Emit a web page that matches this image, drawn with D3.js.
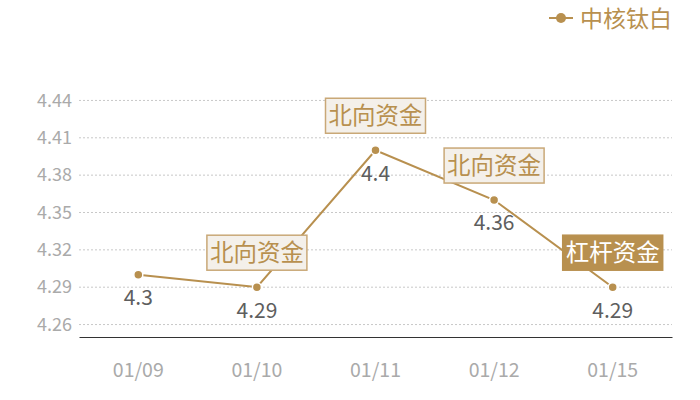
<!DOCTYPE html>
<html>
<head>
<meta charset="utf-8">
<script src="https://cdn.jsdelivr.net/npm/d3@7"></script>
<style>
  body { margin: 0; background: #fff; }
  text { font-family: "Noto Sans CJK SC", "Noto Sans", sans-serif; }
</style>
</head>
<body>
<div id="chart"></div>
<script>
// data
var dates = ["01/09", "01/10", "01/11", "01/12", "01/15"];
var values = [4.3, 4.29, 4.4, 4.36, 4.29];
var notes = ["", "北向资金", "北向资金", "北向资金", "杠杆资金"];
var yTicks = [4.26, 4.29, 4.32, 4.35, 4.38, 4.41, 4.44];
var seriesName = "中核钛白";

var gold = "#b8904f";

var margin = {top: 88, right: 28, bottom: 63, left: 79},
    width = 700 - margin.left - margin.right,
    height = 400 - margin.top - margin.bottom;

var svg = d3.select("#chart")
  .append("svg")
    .attr("width", 700)
    .attr("height", 400)
  .append("g")
    .attr("transform", "translate(" + margin.left + "," + margin.top + ")");

var x = d3.scaleBand()
  .domain(dates)
  .range([0, width]);

var y = d3.scaleLinear()
  .domain([4.25, 4.45])
  .range([height, 0]);

// grid lines
svg.append("g")
  .selectAll("line")
  .data(yTicks)
  .enter().append("line")
    .attr("x1", 0)
    .attr("x2", width)
    .attr("y1", function(d) { return y(d); })
    .attr("y2", function(d) { return y(d); })
    .attr("stroke", "#c8c8c8")
    .attr("stroke-dasharray", "2,2");

// y axis
var yAxis = svg.append("g")
  .call(d3.axisLeft(y).tickValues(yTicks).tickSize(0).tickPadding(7).tickFormat(d3.format(".2f")));
yAxis.select(".domain").remove();
yAxis.selectAll("text")
  .attr("fill", "#aaa")
  .style("font-size", "18px");

// x axis
var xAxis = svg.append("g")
  .attr("transform", "translate(0," + height + ")")
  .call(d3.axisBottom(x).tickSize(0).tickPadding(26));
xAxis.select(".domain").attr("stroke", "#333");
xAxis.selectAll("text")
  .attr("fill", "#aaa")
  .style("font-size", "19.5px");

var cx = function(i) { return x(dates[i]) + x.bandwidth() / 2; };

// line
var line = d3.line()
  .x(function(d, i) { return cx(i); })
  .y(function(d) { return y(d); });

svg.append("path")
  .datum(values)
  .attr("fill", "none")
  .attr("stroke", gold)
  .attr("stroke-width", 2)
  .attr("d", line);

// annotation boxes
var boxW = 100, boxH = 35;
var ann = svg.append("g")
  .selectAll("g")
  .data(values.map(function(v, i) { return {v: v, i: i, note: notes[i]}; })
    .filter(function(d) { return d.note !== ""; }))
  .enter().append("g")
    .attr("transform", function(d) {
      return "translate(" + cx(d.i) + "," + (y(d.v) - 17 - boxH / 2) + ")";
    });

ann.append("rect")
  .attr("x", -boxW / 2)
  .attr("y", -boxH / 2)
  .attr("width", boxW)
  .attr("height", boxH)
  .attr("fill", function(d) { return d.note === "杠杆资金" ? gold : "#f4f0ea"; })
  .attr("stroke", function(d) { return d.note === "杠杆资金" ? gold : "#c9a877"; })
  .attr("stroke-width", 1.5);

ann.append("text")
  .attr("text-anchor", "middle")
  .attr("dy", "0.36em")
  .attr("fill", function(d) { return d.note === "杠杆资金" ? "#fff" : gold; })
  .style("font-size", "23.5px")
  .text(function(d) { return d.note; });

// markers
svg.append("g")
  .selectAll("circle")
  .data(values)
  .enter().append("circle")
    .attr("cx", function(d, i) { return cx(i); })
    .attr("cy", function(d) { return y(d); })
    .attr("r", 4.5)
    .attr("fill", gold)
    .attr("stroke", "#fff")
    .attr("stroke-width", 1.5);

// value labels
svg.append("g")
  .selectAll("text")
  .data(values)
  .enter().append("text")
    .attr("x", function(d, i) { return cx(i); })
    .attr("y", function(d) { return y(d) + 23; })
    .attr("dy", "0.35em")
    .attr("text-anchor", "middle")
    .attr("fill", "#5e5e5e")
    .style("font-size", "21px")
    .text(function(d) { return d; });

// legend
var legend = d3.select("svg").append("g")
  .attr("transform", "translate(549,18)");
legend.append("line")
  .attr("x1", 0).attr("x2", 24)
  .attr("stroke", gold).attr("stroke-width", 2);
legend.append("circle")
  .attr("cx", 12).attr("r", 5)
  .attr("fill", gold);
legend.append("text")
  .attr("x", 31)
  .attr("y", 9)
  .attr("fill", gold)
  .style("font-size", "23px")
  .text(seriesName);
</script>
</body>
</html>
